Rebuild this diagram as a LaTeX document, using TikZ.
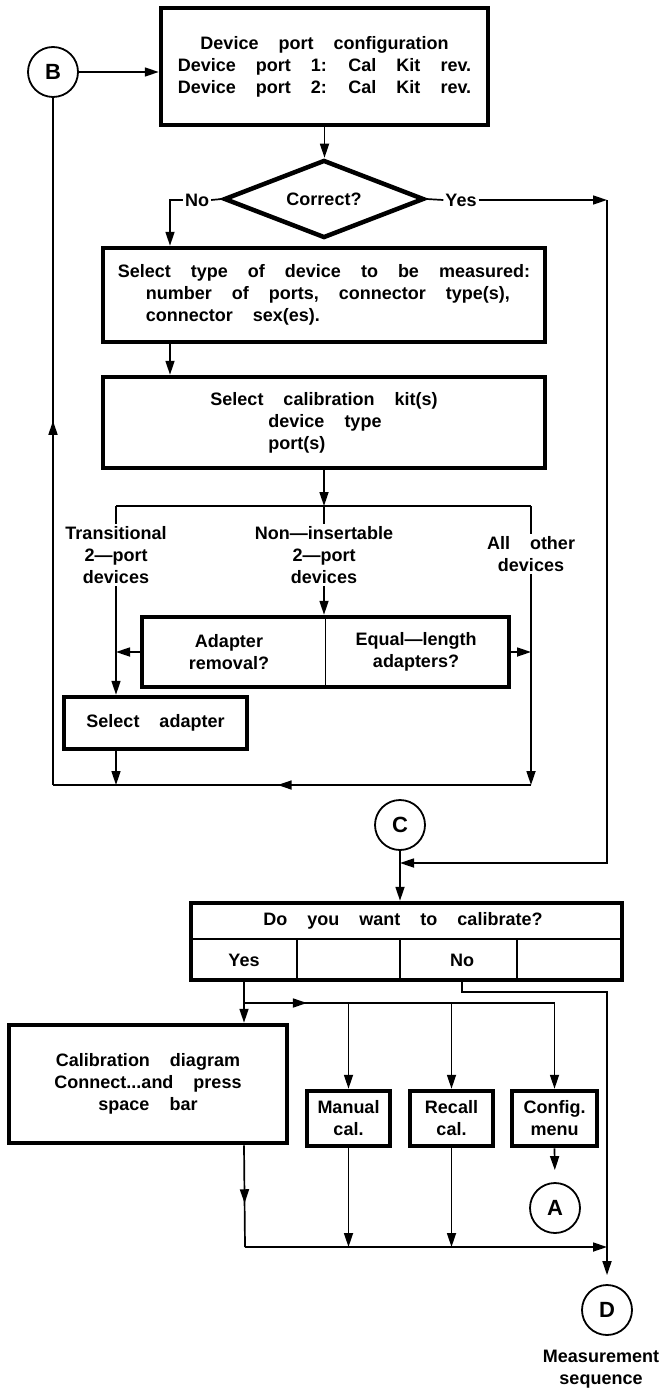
\documentclass[tikz,border=0pt]{standalone}
\usepackage{fontspec}
\setmainfont[WordSpace=4,UprightFont=* Bold,BoldFont=* Bold]{Liberation Sans}
\usetikzlibrary{shapes.geometric,arrows.meta,decorations.markings}
\begin{document}
\begin{tikzpicture}[x=1pt,y=-1pt,
  every node/.style={font=\fontsize{18}{22}\selectfont},
  tbox/.style={draw, line width=4.5pt, inner sep=0pt, align=center},
  conn/.style={line width=1.7pt},
  arr/.style={conn, -{Triangle[length=14pt,width=9pt]}},
  circ/.style={draw, circle, line width=1.8pt, minimum size=50pt, inner sep=0pt, font=\fontsize{22}{22}\selectfont\bfseries},
  lbl/.style={inner sep=2pt, align=center},
  thinrule/.style={line width=1.7pt},
  midarrow/.style={postaction={decorate}, decoration={markings, mark=at position #1 with {\arrow{Triangle[length=14pt,width=9pt]}}}}
]
\useasboundingbox (0,0) rectangle (666,1391);

% top part
\node[circ] (B) at (53,72) {B};
\node[tbox, minimum width=327, minimum height=117] (top) at (324.5,66.5)
  {Device port configuration\\Device port 1: Cal Kit rev.\\Device port 2: Cal Kit rev.};
\node[diamond, draw, line width=4.5pt, shape aspect=2.5, minimum width=200, minimum height=78, inner sep=0pt] (dia) at (324,199) {Correct?};
\node[lbl] (no) at (197,200) {No};
\node[lbl] (yes) at (461,200) {Yes};
\coordinate (noC) at (170,200);
\coordinate (yesC) at (607,200);

\node[tbox, minimum width=442, minimum height=94, align=left] (sel) at (324,295)
  {Select type of device to be measured:\\\hspace*{28pt}number of ports, connector type(s),\\\hspace*{28pt}connector sex(es).};
\node[tbox, minimum width=442, minimum height=91, align=left] (cal) at (324,422.5)
  {Select calibration kit(s)\\\hspace*{58pt}device type\\\hspace*{58pt}port(s)};

\draw[arr] (B.east) -- (B.east -| top.west);
\draw[arr] (top.south) -- (top.south |- dia.north);
\draw[conn] (dia.west) -- (no.east);
\draw[arr] (no.west) -- (noC) -- (noC |- sel.north);
\draw[conn] (dia.east) -- (yes.west);
\draw[arr] (yes.east) -- (yesC);
\draw[arr] (noC |- sel.south) -- (noC |- cal.north);

% branches
\coordinate (brL) at (116,506);
\coordinate (brC) at (324,506);
\coordinate (brR) at (531,506);
\draw[arr] (cal.south) -- (brC);
\draw[conn] (brL) -- (brR);
\node[lbl] (trans) at (116,555) {Transitional\\2---port\\devices};
\node[lbl] (noni) at (324,555) {Non---insertable\\2---port\\devices};
\node[lbl] (allo) at (531,554) {All other\\devices};
\draw[conn] (brL) -- (trans.north);
\draw[conn] (brC) -- (noni.north);
\draw[conn] (brR) -- (allo.north);

\node[tbox, minimum width=367, minimum height=70] (adapt) at (325.5,652) {};
\draw[thinrule, shorten <=2pt, shorten >=2pt] (adapt.north) -- (adapt.south);
\node[lbl] (adl) at (229,652) {Adapter\\removal?};
\node[lbl] (adr) at (416,652) {Equal---length\\adapters?};
\draw[arr] (noni.south) -- (noni.south |- adapt.north);
\draw[arr] (adapt.west) -- (adapt.west -| trans.south);
\draw[arr] (adapt.east) -- (adapt.east -| allo.south);

\node[tbox, minimum width=183, minimum height=52] (selad) at (155.5,723) {Select adapter};
\draw[arr] (trans.south) -- (trans.south |- selad.north);

\coordinate (botR) at (531,785);
\coordinate (botL) at (53,785);
\draw[arr] (trans.south |- selad.south) -- (trans.south |- botR);
\draw[arr] (allo.south) -- (botR);
\draw[conn, midarrow=0.53] (botR) -- (botL);
\draw[conn, midarrow=0.53] (botL) -- (B.south);

% C and calibrate question
\node[circ] (C) at (400,825) {C};
\coordinate (yesB) at (607,863);
\draw[arr] (yesC) -- (yesB) -- (C.south |- yesB);

\node[tbox, minimum width=431, minimum height=77] (calq) at (406.5,941.5) {};
\draw[thinrule] (191,939) -- (622,939);
\draw[thinrule] (297,939) -- (297,980);
\draw[thinrule] (400,939) -- (400,980);
\draw[thinrule] (517,939) -- (517,980);
\node[lbl] (calqt) at (403,921) {Do you want to calibrate?};
\node[lbl] (yc) at (244,960) {Yes};
\node[lbl] (nc) at (462,960) {No};
\draw[arr] (C.south) -- (C.south |- calq.north);

% lower boxes
\node[tbox, minimum width=278, minimum height=118] (cdiag) at (148,1084)
  {Calibration diagram\\Connect...and press\\space bar};
\node[tbox, minimum width=83, minimum height=55] (man) at (348.5,1118.5) {Manual\\cal.};
\node[tbox, minimum width=83, minimum height=55] (rec) at (451.5,1118.5) {Recall\\cal.};
\node[tbox, minimum width=85, minimum height=55] (cfg) at (554.5,1118.5) {Config.\\menu};
\node[circ] (A) at (555,1208) {A};
\node[circ] (D) at (607,1310) {D};
\node[lbl] (meas) at (601,1369) {Measurement\\sequence};

\coordinate (yj) at (245,1003);
\draw[arr] (yc |- calq.south) -- (yc |- cdiag.north);
\draw[conn, midarrow=0.2] (yj) -- (cfg.north |- yj);
\draw[arr] (man.north |- yj) -- (man.north);
\draw[arr] (rec.north |- yj) -- (rec.north);
\draw[arr] (cfg.north |- yj) -- (cfg.north);
\draw[arr, shorten >=9pt] (nc |- calq.south) -- ++(0,10) -| (D.north);

\coordinate (cb) at (245,1247);
\draw[conn, midarrow=0.57] (yc |- cdiag.south) -- (cb);
\draw[arr] (man.south) -- (man.south |- cb);
\draw[arr] (rec.south) -- (rec.south |- cb);
\draw[arr] (cb) -- (D.north |- cb);
\draw[arr, shorten >=12pt] (cfg.south) -- (A.north);
\end{tikzpicture}
\end{document}
